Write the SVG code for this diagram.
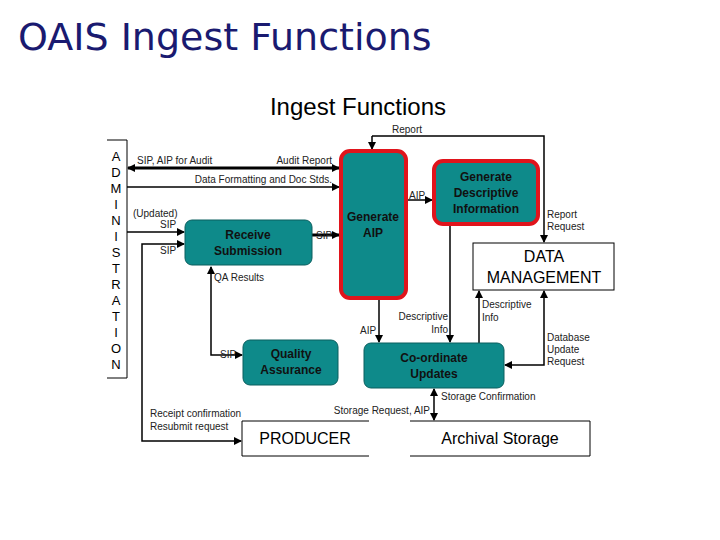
<svg xmlns="http://www.w3.org/2000/svg" width="720" height="540" viewBox="0 0 720 540">
<defs>
<marker id="a" markerWidth="8" markerHeight="8" refX="7" refY="4" orient="auto-start-reverse" markerUnits="userSpaceOnUse"><path d="M0,0 L8,4 L0,8 Z" fill="#000"/></marker>
</defs>
<style>
.n{fill:#0e8a8a;stroke:#0a5f5f;stroke-width:1}
.r{fill:#0e8a8a;stroke:#e0141c;stroke-width:4}
.w{fill:#fff;stroke:#000;stroke-width:1}
.t{font-family:"Liberation Sans",Arial,sans-serif;font-size:12px;font-weight:bold;fill:#111;text-anchor:middle}
.l{font-family:"Liberation Sans",Arial,sans-serif;font-size:10px;fill:#222}
.e{text-anchor:end}
.c line,.c path{stroke:#000;fill:none;stroke-width:1.5}
.c .k{stroke-width:3}
.big{font-family:"Liberation Sans",Arial,sans-serif;font-size:16px;fill:#000;text-anchor:middle}
</style>
<rect width="720" height="540" fill="#fff"/>
<text x="18" y="50" font-family="DejaVu Sans,sans-serif" font-size="38" fill="#1a1a70">OAIS Ingest Functions</text>
<text x="358" y="115" font-family="Liberation Sans,Arial,sans-serif" font-size="24" fill="#000" text-anchor="middle">Ingest Functions</text>
<g id="admin">
<path d="M107,140 H127 V378 H107" fill="none" stroke="#000"/>
<g font-family="Liberation Sans,Arial,sans-serif" font-size="13" text-anchor="middle" fill="#000">
<text x="116" y="161">A</text><text x="116" y="177">D</text><text x="116" y="193">M</text><text x="116" y="209">I</text><text x="116" y="225">N</text><text x="116" y="241">I</text><text x="116" y="257">S</text><text x="116" y="273">T</text><text x="116" y="289">R</text><text x="116" y="305">A</text><text x="116" y="321">T</text><text x="116" y="337">I</text><text x="116" y="353">O</text><text x="116" y="369">N</text>
</g></g>
<g class="c">
<path d="M372,136 H544 V242" marker-end="url(#a)"/>
<line x1="372" y1="136" x2="372" y2="149" marker-end="url(#a)"/>
<line x1="128" y1="168" x2="339" y2="168" class="k" marker-start="url(#a)" marker-end="url(#a)"/>
<line x1="127" y1="187" x2="339" y2="187" marker-end="url(#a)"/>
<line x1="127" y1="232" x2="184" y2="232" marker-end="url(#a)"/>
<path d="M184,244 H142 V441 H241" marker-start="url(#a)" marker-end="url(#a)"/>
<line x1="312" y1="235" x2="339" y2="235" class="k" marker-end="url(#a)"/>
<path d="M211,267 V355 H242" marker-start="url(#a)" marker-end="url(#a)"/>
<line x1="406" y1="200" x2="432" y2="200" marker-end="url(#a)"/>
<line x1="379" y1="298" x2="379" y2="342" marker-end="url(#a)"/>
<line x1="450" y1="224" x2="450" y2="342" marker-end="url(#a)"/>
<line x1="479" y1="343" x2="479" y2="291" marker-end="url(#a)"/>
<path d="M544,291 V365 H505" marker-start="url(#a)" marker-end="url(#a)"/>
<line x1="434" y1="389" x2="434" y2="420" marker-start="url(#a)" marker-end="url(#a)"/>
</g>
<g id="labels" class="l">
<text x="392" y="133">Report</text>
<text x="137" y="164">SIP, AIP for Audit</text>
<text x="332" y="164" class="e">Audit Report</text>
<text x="332" y="183" class="e">Data Formatting and Doc Stds.</text>
<text x="133" y="217">(Updated)</text>
<text x="160" y="228">SIP</text>
<text x="160" y="254">SIP</text>
<text x="316" y="239">SIP</text>
<text x="214" y="281">QA Results</text>
<text x="220" y="358">SIP</text>
<text x="409" y="199">AIP</text>
<text x="360" y="334">AIP</text>
<text x="448" y="320" class="e">Descriptive</text>
<text x="448" y="333" class="e">Info</text>
<text x="482" y="308">Descriptive</text>
<text x="482" y="321">Info</text>
<text x="547" y="218">Report</text>
<text x="547" y="230">Request</text>
<text x="547" y="341">Database</text>
<text x="547" y="353">Update</text>
<text x="547" y="365">Request</text>
<text x="441" y="400">Storage Confirmation</text>
<text x="430" y="414" class="e">Storage Request, AIP</text>
<text x="150" y="417">Receipt confirmation</text>
<text x="150" y="430">Resubmit request</text>
</g>
<g id="genaip"><rect class="r" x="341" y="151" width="65" height="147" rx="9"/><text class="t" x="373" y="221">Generate</text><text class="t" x="373" y="237">AIP</text></g>
<g id="gdi"><rect class="r" x="434" y="161" width="104" height="63" rx="9"/><text class="t" x="486" y="181">Generate</text><text class="t" x="486" y="197">Descriptive</text><text class="t" x="486" y="213">Information</text></g>
<g id="recv"><rect class="n" x="185" y="220" width="127" height="45" rx="7"/><text class="t" x="248" y="239">Receive</text><text class="t" x="248" y="255">Submission</text></g>
<g id="qa"><rect class="n" x="243" y="340" width="95" height="45" rx="7"/><text class="t" x="291" y="358">Quality</text><text class="t" x="291" y="374">Assurance</text></g>
<g id="coord"><rect class="n" x="364" y="343" width="140" height="45" rx="7"/><text class="t" x="434" y="362">Co-ordinate</text><text class="t" x="434" y="378">Updates</text></g>
<g id="dm"><rect class="w" x="473" y="243" width="141" height="47"/><text class="big" x="544" y="262">DATA</text><text class="big" x="544" y="283">MANAGEMENT</text></g>
<g id="producer"><path d="M369,421 H242 V456 H369" fill="none" stroke="#000"/><text class="big" x="305" y="444">PRODUCER</text></g>
<g id="storage"><path d="M410,421 H590 V456 H410" fill="none" stroke="#000"/><text class="big" x="500" y="444">Archival Storage</text></g>
</svg>
